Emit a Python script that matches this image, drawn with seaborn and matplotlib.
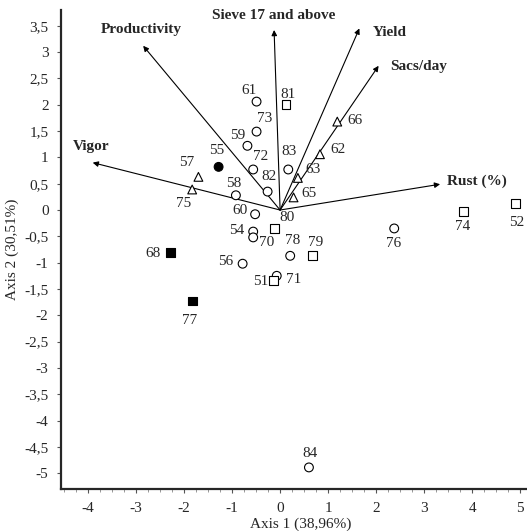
import numpy as np
import pandas as pd
import seaborn as sns
import matplotlib.pyplot as plt
from matplotlib.ticker import FuncFormatter, MultipleLocator

# Genotype scores on the first two axes
ids = ['61', '81', '73', '59', '72', '55', '57', '75', '58', '82', '83', '66', '62', '63', '65',
       '60', '80', '54', '70', '78', '79', '56', '71', '51', '68', '77', '76', '74', '52', '84']
axis1 = [-0.49, 0.125, -0.49, -0.68, -0.56, -1.28, -1.70, -1.83, -0.92, -0.26, 0.17, 1.19, 0.83, 0.37, 0.28,
         -0.52, -0.12, -0.56, -0.56, 0.21, 0.68, -0.78, -0.07, -0.14, -2.28, -1.83, 2.375, 3.81, 4.90, 0.60]
axis2 = [2.06, 2.0, 1.49, 1.22, 0.77, 0.82, 0.63, 0.39, 0.28, 0.35, 0.77, 1.68, 1.06, 0.61, 0.24,
         -0.08, -0.35, -0.41, -0.52, -0.87, -0.87, -1.02, -1.25, -1.34, -0.80, -1.73, -0.35, -0.03, 0.13, -4.89]
groups = ['circle', 'square', 'circle', 'circle', 'circle', 'circle_f', 'triangle', 'triangle', 'circle', 'circle',
          'circle', 'triangle', 'triangle', 'triangle', 'triangle', 'circle', 'square', 'circle', 'circle', 'circle',
          'square', 'circle', 'circle', 'square', 'square_f', 'square_f', 'circle', 'square', 'square', 'circle']

# Variable vectors
variables = ['Productivity', 'Sieve 17 and above', 'Yield', 'Sacs/day', 'Vigor', 'Rust (%)']
var_x = [-2.85, -0.125, 1.65, 2.05, -3.90, 3.33]
var_y = [3.12, 3.42, 3.45, 2.74, 0.90, 0.49]

# label offsets (data units) relative to each point
label_off = {
    '61': (-0.16, 0.22), '81': (0.03, 0.20), '73': (0.16, 0.25), '59': (-0.21, 0.20),
    '72': (0.16, 0.24), '55': (-0.04, 0.31), '57': (-0.24, 0.27), '75': (-0.18, -0.26),
    '58': (-0.05, 0.23), '82': (0.03, 0.28), '83': (0.02, 0.34), '66': (0.37, 0.03),
    '62': (0.37, 0.09), '63': (0.31, 0.16), '65': (0.32, 0.08), '60': (-0.31, 0.08),
    '80': (0.27, 0.20), '54': (-0.34, 0.03), '70': (0.28, -0.10), '78': (0.05, 0.29),
    '79': (0.06, 0.25), '56': (-0.345, 0.04), '71': (0.36, -0.07), '51': (-0.26, -0.02),
    '68': (-0.36, -0.02), '77': (-0.045, -0.36), '76': (-0.02, -0.28), '74': (-0.01, -0.29),
    '52': (0.03, -0.37), '84': (0.02, 0.26),
}
# variable label anchors: (x, y, ha)
var_label_pos = {
    'Productivity': (-2.88, 3.43, 'center'),
    'Sieve 17 and above': (-0.125, 3.70, 'center'),
    'Yield': (1.93, 3.38, 'left'),
    'Sacs/day': (2.29, 2.73, 'left'),
    'Vigor': (-4.31, 1.20, 'left'),
    'Rust (%)': (3.47, 0.54, 'left'),
}

df = pd.DataFrame({'id': ids, 'x': axis1, 'y': axis2, 'group': groups})

sns.set_style('ticks')
plt.rcParams['font.family'] = ['Liberation Serif', 'DejaVu Serif']

fig = plt.figure(figsize=(5.27, 5.31), dpi=100)
ax = fig.add_axes([61 / 527, 42 / 531, 480 / 527, 479 / 531])

# arrows for variables
for name, vx, vy in zip(variables, var_x, var_y):
    ax.annotate('', xy=(vx, vy), xytext=(0, 0),
                arrowprops=dict(arrowstyle='-|>', color='black', lw=0.8,
                                mutation_scale=8, shrinkA=0, shrinkB=0))
    lx, ly, ha = var_label_pos[name]
    ax.text(lx, ly, name, ha=ha, va='center', fontsize=11, fontweight='bold')

markers = {'circle': 'o', 'square': 's', 'triangle': '^', 'circle_f': 'o', 'square_f': 's'}
fills = {'circle': 'white', 'square': 'white', 'triangle': 'white', 'circle_f': 'black', 'square_f': 'black'}
sns.scatterplot(data=df, x='x', y='y', hue='group', style='group', markers=markers,
                palette=fills, edgecolor='black', linewidth=0.8, s=40, legend=False,
                ax=ax, zorder=3)

for pid, px, py in zip(ids, axis1, axis2):
    dx, dy = label_off[pid]
    ax.text(px + dx, py + dy, pid, ha='center', va='center', fontsize=11, zorder=4)

ax.set_xlim(-4.56, 5.43)
ax.set_ylim(-5.30, 3.80)
ax.xaxis.set_major_locator(MultipleLocator(1))
ax.xaxis.set_minor_locator(MultipleLocator(0.25))
ax.yaxis.set_major_locator(MultipleLocator(0.5))

fmt = FuncFormatter(lambda v, p: ('%g' % round(v, 2)).replace('.', ','))
ax.xaxis.set_major_formatter(fmt)
ax.yaxis.set_major_formatter(fmt)
ax.tick_params(axis='both', which='major', length=3, width=0.8, color='#555555',
               labelsize=11, pad=6)
ax.tick_params(axis='x', which='minor', length=2, width=0.6, color='#888888')

for side in ['top', 'right']:
    ax.spines[side].set_visible(False)
for side in ['left', 'bottom']:
    ax.spines[side].set_linewidth(1.6)

ax.set_xlabel('Axis 1 (38,96%)', fontsize=11, labelpad=2)
ax.set_ylabel('Axis 2 (30,51%)', fontsize=11, labelpad=4)

fig.savefig('out.png', dpi=100)
